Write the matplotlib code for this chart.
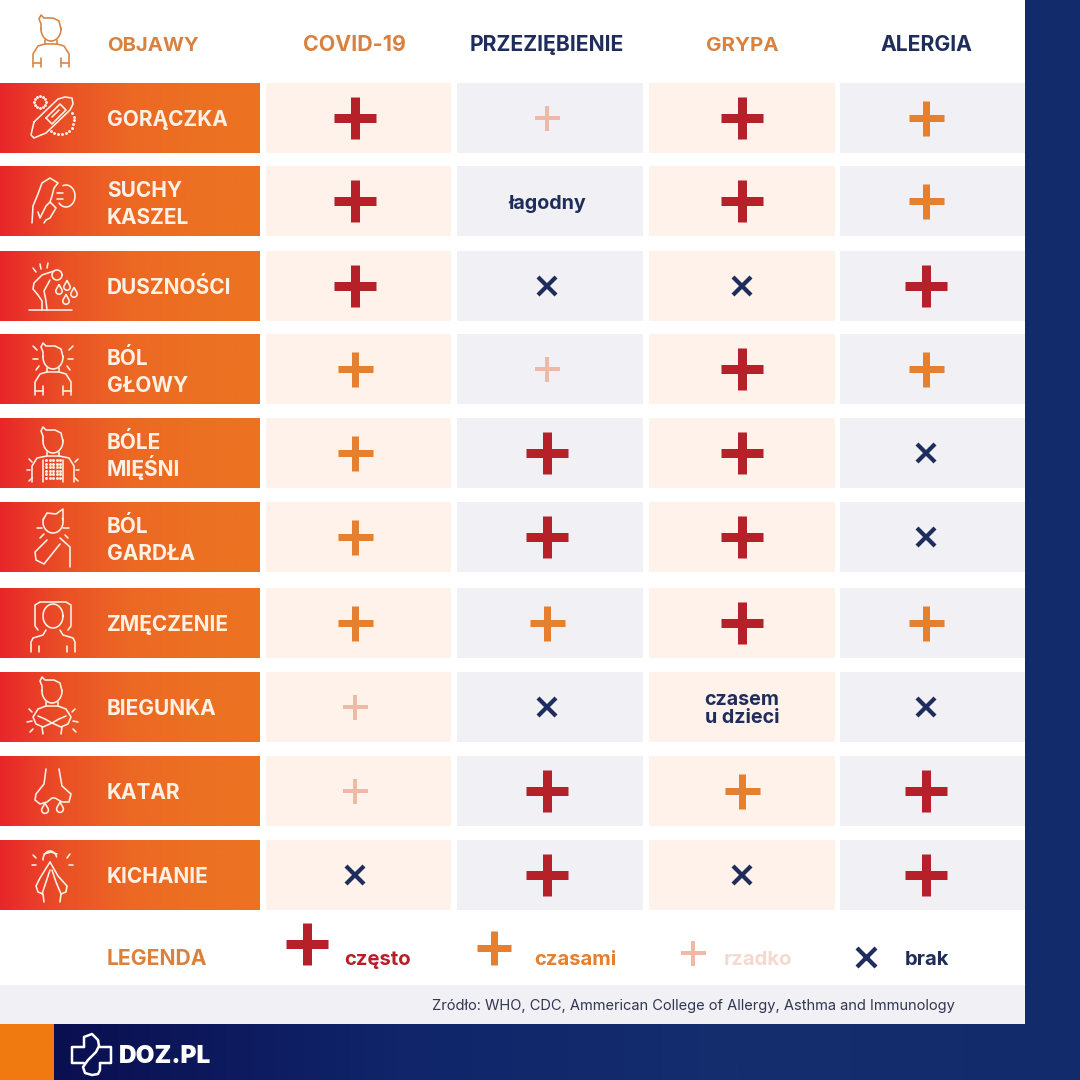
import numpy as np
import matplotlib
matplotlib.use('Agg')
import matplotlib.pyplot as plt
from matplotlib.colors import LinearSegmentedColormap
from matplotlib.patches import Rectangle

# Table content
symptoms = ['GORĄCZKA', 'SUCHY\nKASZEL', 'DUSZNOŚCI', 'BÓL\nGŁOWY', 'BÓLE\nMIĘŚNI',
            'BÓL\nGARDŁA', 'ZMĘCZENIE', 'BIEGUNKA', 'KATAR', 'KICHANIE']
diseases = ['COVID-19', 'PRZEZIĘBIENIE', 'GRYPA', 'ALERGIA']
covid = ['often', 'often', 'often', 'sometimes', 'sometimes', 'sometimes', 'sometimes', 'rarely', 'rarely', 'none']
cold = ['rarely', 'łagodny', 'none', 'rarely', 'often', 'often', 'sometimes', 'none', 'often', 'often']
flu = ['often', 'often', 'none', 'often', 'often', 'often', 'often', 'czasem\nu dzieci', 'sometimes', 'none']
allergy = ['sometimes', 'sometimes', 'often', 'sometimes', 'none', 'none', 'sometimes', 'none', 'often', 'often']
legend_labels = ['często', 'czasami', 'rzadko', 'brak']
source_text = 'Zródło: WHO, CDC, Ammerican College of Allergy, Asthma and Immunology'

# Layout in image pixels
row_tops = [83, 166, 251, 334, 418, 502, 588, 672, 756, 840]
row_h = 70
col_edges = [(266, 451), (457, 643), (649, 835), (840, 1025)]
col_centers = [355, 547, 742, 926]

RED = '#b52029'
ORANGE = '#e67f2e'
PALE = '#f0b9a6'
NAVY = '#1f2d5c'
HEAD_ORANGE = '#d9823f'
CREAM = '#fdf1e6'
PX = 0.72  # points per pixel at dpi 100

plt.rcParams['font.family'] = ['Inter', 'DejaVu Sans']

fig = plt.figure(figsize=(10.8, 10.8), dpi=100)
ax = fig.add_axes([0, 0, 1, 1])
ax.axis('off')


def gradient(x0, x1, y0, y1, stops):
    cmap = LinearSegmentedColormap.from_list('g', stops)
    ax.imshow(np.linspace(0, 1, 512)[None, :], extent=(x0, x1, y1, y0), cmap=cmap,
              aspect='auto', zorder=1, interpolation='bilinear')


def box(x, y, w, h, color, zorder=1):
    ax.add_patch(Rectangle((x, y), w, h, facecolor=color, edgecolor='none', lw=0, zorder=zorder))


def line(xs, ys, color=CREAM, lw=1.6):
    ax.plot(xs, ys, color=color, lw=lw * PX, solid_capstyle='round', solid_joinstyle='round', zorder=4)


def arc(cx, cy, rx, ry, a0, a1, color=CREAM, lw=1.6):
    t = np.radians(np.linspace(a0, a1, 40))
    line(cx + rx * np.cos(t), cy + ry * np.sin(t), color, lw)


def rays(pts, color=CREAM):
    for x0, y0, x1, y1 in pts:
        line([x0, x1], [y0, y1], color)


def head(cx, top, color=CREAM):
    # face outline plus the hair tuft that the icons share
    arc(cx, top + 14, 10, 12, -5, 185, color)
    line([cx - 10, cx - 10, cx - 12, cx - 10, cx - 7, cx + 2, cx + 8, cx + 10],
         [top + 14, top + 9, top + 4, top, top + 3, top + 3, top + 6, top + 14], color)


def person(cx, top, color=CREAM, arms=True, w=18, h=52):
    head(cx, top, color)
    line([cx - 6, cx - 6, cx + 6, cx + 6], [top + 25, top + 29, top + 29, top + 25], color)
    line([cx - 6, cx - w + 5, cx - w, cx - w], [top + 29, top + 31, top + 39, top + h], color)
    line([cx + 6, cx + w - 5, cx + w, cx + w], [top + 29, top + 31, top + 39, top + h], color)
    if arms:
        line([cx - 10, cx - 10], [top + 43, top + h], color)
        line([cx + 10, cx + 10], [top + 43, top + h], color)
        line([cx - w, cx - 10], [top + h - 4, top + h - 4], color)
        line([cx + 10, cx + w], [top + h - 4, top + h - 4], color)


def drop(cx, cy, r=3.2, color=CREAM):
    t = np.radians(np.linspace(-30, 210, 30))
    xs = np.r_[cx, cx + r * np.cos(t), cx]
    ys = np.r_[cy - r * 2, cy + r * np.sin(t), cy - r * 2]
    line(xs, ys, color)


def icon_fever(y):
    line([34, 58, 65, 72, 73, 70, 46, 41, 34, 31, 34],
         [y + 39, y + 16, y + 14, y + 15, y + 21, y + 27, y + 50, y + 52, y + 55, y + 52, y + 39])
    line([46, 60, 66, 52, 46], [y + 35, y + 21, y + 27, y + 41, y + 35])
    line([52, 59], [y + 34, y + 27])
    t = np.radians(np.linspace(0, 330, 12))
    ax.scatter(40 + 6 * np.cos(t), y + 19 + 6 * np.sin(t), s=1.2, color=CREAM, zorder=4)
    t = np.radians(np.linspace(-30, 130, 11))
    ax.scatter(60 + 14 * np.cos(t), y + 37 + 14 * np.sin(t), s=1.2, color=CREAM, zorder=4)


def icon_cough(y):
    line([32, 33, 38, 42, 50, 58, 54, 52, 50, 56, 50, 46, 44],
         [y + 57, y + 40, y + 28, y + 17, y + 12, y + 17, y + 22, y + 30, y + 36, y + 42, y + 52, y + 54, y + 57])
    line([38, 40, 46, 50], [y + 46, y + 52, y + 40, y + 36])
    arc(66, y + 30, 9, 11, -110, 140)
    line([57, 63], [y + 27, y + 27])
    line([57, 63], [y + 33, y + 33])


def icon_breath(y):
    arc(57, y + 24, 5, 5, 0, 360)
    line([54, 42, 34, 33, 38, 42, 42], [y + 20, y + 24, y + 32, y + 38, y + 44, y + 50, y + 59])
    line([50, 44, 46, 47], [y + 29, y + 40, y + 50, y + 59])
    line([29, 72], [y + 59, y + 59])
    rays([(33, y + 17, 36, y + 21), (40, y + 13, 41, y + 18), (48, y + 12, 47, y + 17)])
    drop(59, y + 40)
    drop(67, y + 36)
    drop(74, y + 43)
    drop(66, y + 50)


def icon_head(y):
    person(53, y + 9)
    rays([(33, y + 12, 37, y + 16), (33, y + 25, 38, y + 25), (36, y + 36, 39, y + 32),
          (73, y + 12, 69, y + 16), (73, y + 25, 68, y + 25), (70, y + 36, 67, y + 32)])


def icon_muscles(y):
    person(53, y + 9, arms=False, w=21, h=55)
    line([43, 43], [y + 42, y + 64])
    line([63, 63], [y + 42, y + 64])
    gx, gy = np.meshgrid(np.arange(46, 62, 3.5), np.arange(y + 42, y + 62, 3.5))
    ax.scatter(gx.ravel(), gy.ravel(), s=1.2, color=CREAM, zorder=4)
    rays([(27, y + 52, 30, y + 52), (76, y + 52, 79, y + 52), (29, y + 41, 32, y + 44),
          (78, y + 41, 75, y + 44), (29, y + 63, 32, y + 60), (78, y + 63, 75, y + 60)])


def icon_throat(y):
    arc(53, y + 20, 10, 11, -20, 200)
    line([43, 47, 56, 63, 63], [y + 18, y + 11, y + 12, y + 7, y + 18])
    line([47, 35, 36, 44, 60], [y + 38, y + 50, y + 58, y + 62, y + 42])
    line([60, 70, 70], [y + 36, y + 45, y + 65])
    rays([(37, y + 26, 42, y + 26), (63, y + 26, 69, y + 26), (40, y + 36, 44, y + 32), (68, y + 36, 65, y + 33)])


def icon_tired(y):
    line([38, 35, 35, 40, 66, 71, 71, 68], [y + 42, y + 38, y + 17, y + 14, y + 14, y + 17, y + 38, y + 42])
    arc(53, y + 28, 10, 12, 0, 360)
    line([46, 43, 33, 31, 31], [y + 42, y + 47, y + 50, y + 54, y + 64])
    line([60, 63, 73, 75, 75], [y + 42, y + 47, y + 50, y + 54, y + 64])
    line([39, 39], [y + 58, y + 64])
    line([67, 67], [y + 58, y + 64])


def icon_stomach(y):
    head(52, y + 5)
    line([46, 46, 58, 58], [y + 30, y + 34, y + 34, y + 30])
    line([46, 38, 33, 36, 43, 52, 61, 68, 71, 66, 58],
         [y + 34, y + 37, y + 45, y + 52, y + 55, y + 51, y + 55, y + 52, y + 45, y + 37, y + 34])
    line([38, 45, 52, 59, 66], [y + 44, y + 47, y + 51, y + 47, y + 44])
    line([42, 43], [y + 55, y + 62])
    line([62, 61], [y + 55, y + 62])
    rays([(27, y + 50, 32, y + 49), (30, y + 60, 33, y + 57), (78, y + 50, 73, y + 49), (76, y + 60, 73, y + 57),
          (32, y + 40, 29, y + 37), (72, y + 40, 75, y + 37)])


def icon_nose(y):
    line([46, 44, 36, 35, 40, 47, 52, 55, 62, 69, 71, 62, 59],
         [y + 13, y + 28, y + 38, y + 44, y + 48, y + 46, y + 42, y + 42, y + 46, y + 46, y + 38, y + 30, y + 13])
    drop(45, y + 54, 3.4)
    drop(60, y + 53, 3.4)


def icon_sneeze(y):
    arc(50, y + 20, 7, 9, 180, 340)
    line([44, 51, 57], [y + 14, y + 12, y + 14])
    line([50, 40, 36, 38, 43, 44], [y + 22, y + 38, y + 46, y + 52, y + 54, y + 62])
    line([50, 58, 67, 66, 61, 60], [y + 22, y + 36, y + 46, y + 52, y + 54, y + 62])
    line([50, 46, 42], [y + 30, y + 42, y + 54])
    line([52, 56, 61], [y + 30, y + 42, y + 54])
    rays([(33, y + 15, 36, y + 18), (32, y + 25, 36, y + 25), (70, y + 14, 67, y + 18), (73, y + 25, 69, y + 25)])


icons = [icon_fever, icon_cough, icon_breath, icon_head, icon_muscles,
         icon_throat, icon_tired, icon_stomach, icon_nose, icon_sneeze]

# Background panels
box(0, 0, 1080, 1080, 'white', 0)
box(1025, 0, 55, 1080, '#122b6b')
box(0, 985, 1025, 39, '#f0f0f5')
gradient(54, 1080, 1024, 1080, ['#0a0f50', '#10256a', '#142e6e', '#122b6b'])
box(0, 1024, 54, 56, '#f07a0f', 2)

# Header
person(51, 15, color=HEAD_ORANGE)
ax.text(107, 51, 'OBJAWY', color=HEAD_ORANGE, fontsize=14.6, fontweight='bold', zorder=5)
header_colors = [HEAD_ORANGE, NAVY, HEAD_ORANGE, NAVY]
header_sizes = [15.4, 15.2, 14.8, 15.2]
header_x = [354, 547, 742, 926]
for cx, name, c, fs in zip(header_x, diseases, header_colors, header_sizes):
    ax.text(cx, 51, name, color=c, fontsize=fs, fontweight='bold', ha='center', zorder=5)

styles = {'often': ('+', 43, 9, RED), 'sometimes': ('+', 35, 7, ORANGE),
          'rarely': ('+', 25, 4, PALE), 'none': ('x', 18, 4.2, NAVY)}


def mark(x, y, kind, size=None):
    m, s, w, c = styles[kind]
    ax.plot([x], [y], marker=m, ms=(size or s) * PX, mew=w * PX, color=c, ls='none', zorder=4)


# Rows
columns = [covid, cold, flu, allergy]
for r, (top, label) in enumerate(zip(row_tops, symptoms)):
    gradient(0, 260, top, top + row_h, ['#e8262a', '#ea5126', '#ec6824', '#ec7022', '#ec7322'])
    icons[r](top)
    parts = label.split('\n')
    baselines = [43] if len(parts) == 1 else [31, 58]
    for part, b in zip(parts, baselines):
        ax.text(107, top + b, part, color=CREAM, fontsize=15, fontweight='bold', zorder=5)
    for c, values in enumerate(columns):
        x0, x1 = col_edges[c]
        box(x0, top, x1 - x0, row_h, '#fff2ea' if c % 2 == 0 else '#f1f1f5')
        value = values[r]
        if value in styles:
            mark(col_centers[c], top + row_h / 2, value)
        else:
            parts = value.split('\n')
            baselines = [43] if len(parts) == 1 else [33, 51]
            for part, b in zip(parts, baselines):
                ax.text(col_centers[c], top + b, part, color=NAVY, fontsize=14.2, fontweight='bold',
                        ha='center', zorder=5)

# Legend
ax.text(107, 965, 'LEGENDA', color=HEAD_ORANGE, fontsize=15.2, fontweight='bold', zorder=5)
legend_marks = ['often', 'sometimes', 'rarely', 'none']
legend_x = [307, 494, 693, 866]
legend_y = [944, 948, 953, 957]
legend_sizes = [43, 34, 25, 19]
legend_text_x = [344, 534, 724, 905]
legend_colors = [RED, ORANGE, '#f3d9cf', NAVY]
for kind, x, y, s, tx, lab, c in zip(legend_marks, legend_x, legend_y, legend_sizes, legend_text_x, legend_labels, legend_colors):
    mark(x, y, kind, s)
    ax.text(tx, 965, lab, color=c, fontsize=14.6, fontweight='bold', zorder=5)

ax.text(955, 1010, source_text, color='#33374f', fontsize=10.55, ha='right', zorder=5)

# DOZ.PL logo
WHITE = 'white'
line([84, 72, 72, 84], [1047, 1047, 1063, 1063], WHITE, 2.5)
line([84, 84, 92, 98], [1047, 1037, 1034, 1040], WHITE, 2.5)
line([98, 99, 96, 88, 83, 85, 92, 98, 100, 100], [1040, 1046, 1052, 1060, 1067, 1073, 1075, 1074, 1070, 1063], WHITE, 2.5)
line([100, 111, 111, 100], [1063, 1063, 1047, 1047], WHITE, 2.5)
ax.text(119, 1063, 'DOZ.PL', color=WHITE, fontsize=17.5, fontweight='black', zorder=5)

ax.set_xlim(0, 1080)
ax.set_ylim(1080, 0)
fig.savefig('out.png', dpi=100)
